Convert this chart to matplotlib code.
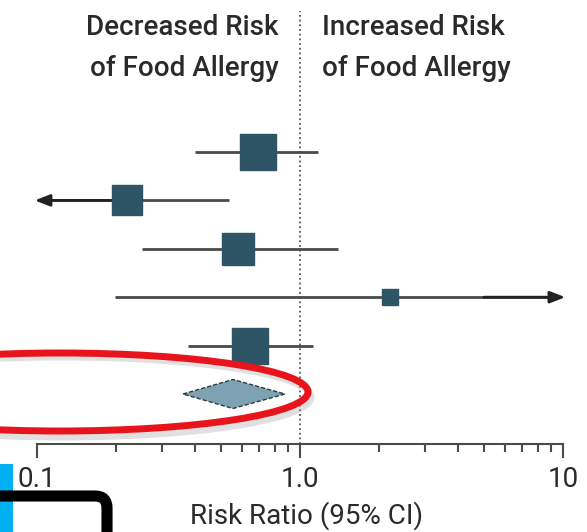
import matplotlib
matplotlib.use('Agg')
import matplotlib.pyplot as plt
from matplotlib.patches import Polygon, Ellipse, Rectangle, FancyBboxPatch
from matplotlib.ticker import FixedLocator, NullFormatter

# study estimates (risk ratio with 95% CI)
risk_ratio = [0.69, 0.22, 0.58, 2.20, 0.645]
ci_low = [0.40, 0.10, 0.25, 0.198, 0.375]
ci_high = [1.17, 0.537, 1.39, 10.0, 1.12]
weights = [28, 18.5, 20, 5, 28]  # percent, drives the square size

# pooled estimate (diamond)
pooled = 0.556
pooled_low = 0.359
pooled_high = 0.877

tick_values = [0.1, 1.0, 10]
tick_labels = ['0.1', '1.0', '10']


def main():
    plt.rcParams['font.family'] = ['Roboto', 'DejaVu Sans']
    text_color = '#2a2a2a'
    line_color = '#4a4a4a'
    square_color = '#2e5566'
    fs = 20

    W, H = 587, 532
    fig = plt.figure(figsize=(W / 100, H / 100), dpi=100)
    fig.patch.set_facecolor('white')

    # axis line sits at y=444 px, 0.1 at x=37 px, 10 at x=563 px
    ax = fig.add_axes([37 / W, (H - 444) / H, 526 / W, 444 / H])
    ax.set_xscale('log')
    ax.set_xlim(0.1, 10)
    row_px = 48.4
    ax.set_ylim(5 + 50 / row_px, -152 / row_px)
    ax.patch.set_alpha(0)

    for s in ['top', 'left', 'right']:
        ax.spines[s].set_visible(False)
    ax.spines['bottom'].set_color(line_color)
    ax.spines['bottom'].set_linewidth(1.5)
    ax.set_yticks([])

    ax.xaxis.set_major_locator(FixedLocator(tick_values))
    ax.set_xticklabels(tick_labels)
    minor = [m * 10 ** k for k in (-1, 0) for m in range(2, 10)]
    ax.xaxis.set_minor_locator(FixedLocator(minor))
    ax.xaxis.set_minor_formatter(NullFormatter())
    ax.tick_params(axis='x', which='major', length=10, width=1.5,
                   color=line_color, labelsize=fs, labelcolor=text_color, pad=6)
    ax.tick_params(axis='x', which='minor', length=6, width=1.5, color=line_color)
    ax.set_xlabel('Risk Ratio (95% CI)', fontsize=fs, color=text_color)
    ax.xaxis.label.set_va('center')
    ax.xaxis.set_label_coords((307 - 37) / 526, -(516 - 444) / 444)

    # line of no effect
    ax.axvline(1.0, ymin=0, ymax=(444 - 11) / 444, color='#555555',
               lw=1.3, linestyle=(0, (1, 1.6)), zorder=1)

    for i, (rr, lo, hi, w) in enumerate(zip(risk_ratio, ci_low, ci_high, weights)):
        left = lo if lo > 0.1 else 0.098
        right = hi if hi < 10 else 10.2
        ax.plot([max(lo, 0.11), min(hi, 9.0)], [i, i], color=line_color,
                lw=2, solid_capstyle='butt', zorder=2, clip_on=False)
        if lo <= 0.1:
            ax.annotate('', xy=(left, i), xytext=(0.2, i),
                        arrowprops=dict(arrowstyle='-|>,head_length=0.9,head_width=0.35',
                                        color='#222222', lw=2, shrinkA=0, shrinkB=0),
                        annotation_clip=False, zorder=2)
        if hi >= 10:
            ax.annotate('', xy=(right, i), xytext=(5, i),
                        arrowprops=dict(arrowstyle='-|>,head_length=0.9,head_width=0.35',
                                        color='#222222', lw=2, shrinkA=0, shrinkB=0),
                        annotation_clip=False, zorder=2)
        ax.plot(rr, i, marker='s', markersize=5.0 * w ** 0.5, color=square_color,
                markeredgecolor=square_color, zorder=3, clip_on=False)

    yd = len(risk_ratio)
    hh = 14.5 / row_px
    diamond = Polygon([(pooled_low, yd), (pooled, yd - hh), (pooled_high, yd), (pooled, yd + hh)],
                      closed=True, facecolor='#7fa2b2', edgecolor='#2b3b44',
                      lw=1, linestyle=(0, (3, 1.5)), zorder=3)
    ax.add_patch(diamond)

    # column headers
    head = dict(fontsize=fs, color=text_color, fontweight='medium', va='center')
    fig.text(279 / W, 1 - 28 / H, 'Decreased Risk', ha='right', **head)
    fig.text(279 / W, 1 - 69 / H, 'of Food Allergy', ha='right', **head)
    fig.text(322 / W, 1 - 28 / H, 'Increased Risk', ha='left', **head)
    fig.text(322 / W, 1 - 69 / H, 'of Food Allergy', ha='left', **head)

    # screenshot markup on top, in pixel coordinates
    ov = fig.add_axes([0, 0, 1, 1], zorder=10)
    ov.set_xlim(0, W)
    ov.set_ylim(H, 0)
    ov.axis('off')
    ov.patch.set_alpha(0)
    ov.add_patch(Ellipse((63, 397), 496, 80, fill=False, edgecolor='#999999',
                         lw=5, alpha=0.3))
    ov.add_patch(Ellipse((60, 392), 496, 78, fill=False, edgecolor='#e8141c', lw=5))
    ov.add_patch(Rectangle((0, 464), 13, 70, facecolor='#00b0f0', edgecolor='none'))
    ov.add_patch(FancyBboxPatch((-40, 496), 147, 80,
                                boxstyle='round,pad=0,rounding_size=12',
                                facecolor='none', edgecolor='black', lw=8))

    fig.savefig('out.png', dpi=100)


if __name__ == '__main__':
    main()
